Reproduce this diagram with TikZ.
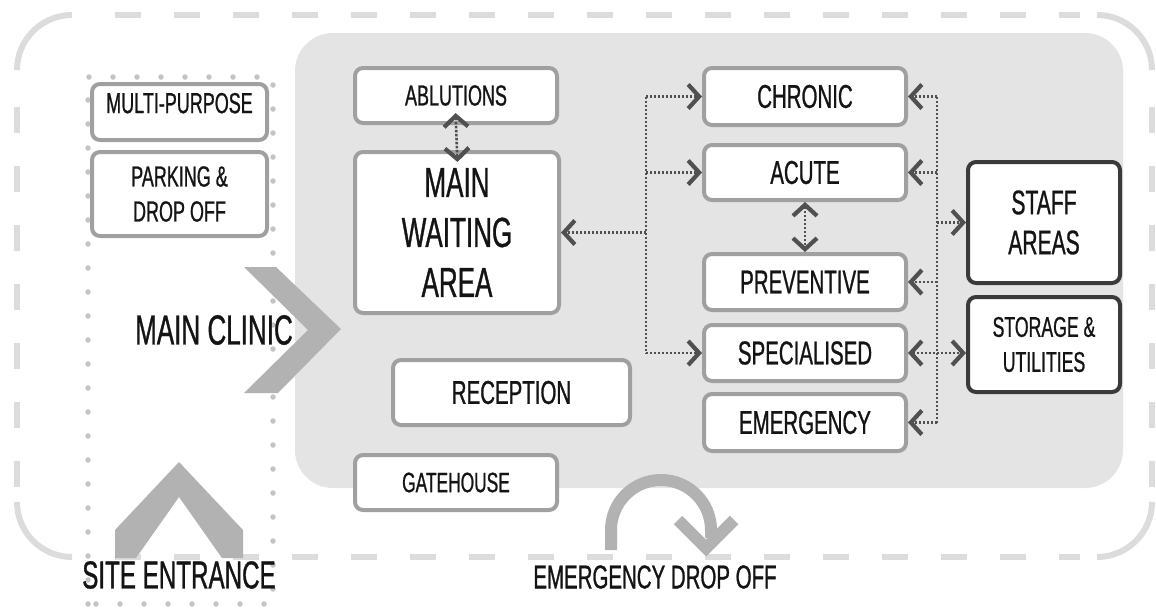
\documentclass[tikz,border=0pt]{standalone}
\usepackage{fontspec}
\setmainfont{Liberation Sans}[FakeStretch=0.62, FakeBold=0.8]
\usepackage{xcolor}
\usepackage{tikz}
\usetikzlibrary{arrows.meta}
\definecolor{dashgry}{RGB}{220,220,220}
\definecolor{dotgry}{RGB}{196,196,196}
\definecolor{clngry}{RGB}{228,228,228}
\definecolor{chvgry}{RGB}{178,178,178}
\definecolor{boxgry}{RGB}{160,160,160}
\definecolor{boxdrk}{RGB}{58,58,58}
\definecolor{arrgry}{RGB}{80,80,80}
\definecolor{txtblk}{RGB}{20,20,20}

\begin{document}
\begin{tikzpicture}[x=1pt, y=-1pt, line join=round, text=txtblk,
    box/.style={draw=boxgry, fill=white, line width=4pt, rounded corners=8pt, inner sep=0pt, align=center},
    darkbox/.style={box, draw=boxdrk},
    smalltxt/.style={font=\fontsize{29}{35}\selectfont},
    midtxt/.style={font=\fontsize{33}{40}\selectfont},
    bigtxt/.style={font=\fontsize{42}{50}\selectfont},
    link/.style={draw=arrgry, line width=2.6pt, dash pattern=on 2.4pt off 1.6pt,
        >={Straight Barb[length=11pt,width=24pt,line width=4.2pt]}},
    sitedash/.style={draw=dashgry, line width=6pt, dash pattern=on 26pt off 33pt},
    sitecorner/.style={draw=dashgry, line width=6pt, rounded corners=55pt}]

\fill[white] (0,0) rectangle (1156,608);
\useasboundingbox (0,0) rectangle (1156,608);

%% site boundary -- dashed edges, solid corners
\draw[sitedash] (115,15) -- (1080,15);
\draw[sitedash] (115,557) -- (1080,557);
\draw[sitedash] (17,107) -- (17,500);
\draw[sitedash] (1152,107) -- (1152,500);
\draw[sitecorner] (17,70) |- (72,15);
\draw[sitecorner] (1097,15) -| (1152,70);
\draw[sitecorner] (1152,502) |- (1097,557);
\draw[sitecorner] (72,557) -| (17,502);

%% dotted strip on the left
\draw[dotgry, line width=5.5pt, line cap=round, dash pattern=on 0pt off 24pt]
    (88,604) -- (88,77) -- (273,77) -- (273,604) -- cycle;

%% main clinic area
\fill[clngry, rounded corners=38pt] (295,33) rectangle (1123,488);

%% big grey chevrons and the drop off turn
\fill[chvgry] (244,267) -- (276,267) -- (341,329) -- (278,393) -- (244,393) -- (308,330) -- cycle;
\fill[chvgry] (115,558) -- (115,530) -- (179,462) -- (243,530) -- (243,558) -- (222,558) -- (179,497) -- (136,558) -- cycle;
\draw[chvgry, line width=12pt] (611,550) -- (611,530) arc[start angle=180, end angle=360, radius=50] -- (711,538);
\draw[chvgry, line width=12pt, line join=miter] (678,520) -- (706,548) -- (734,520);

%% left column
\node[box, smalltxt, minimum width=175, minimum height=56] (multi) at (179.5,112) {\raisebox{18pt}{MULTI-PURPOSE}};
\node[box, smalltxt, minimum width=175, minimum height=84] (parking) at (179.5,194) {PARKING \&\\DROP OFF};

%% waiting side
\node[box, smalltxt, minimum width=202, minimum height=55] (ablutions) at (456,95.5) {ABLUTIONS};
\node[box, bigtxt, minimum width=204, minimum height=161] (mainwait) at (457,232.5) {MAIN\\WAITING\\AREA};
\node[box, midtxt, minimum width=237, minimum height=65] (reception) at (511.5,392.5) {RECEPTION};
\node[box, font=\fontsize{28}{34}\selectfont, minimum width=202, minimum height=55] (gatehouse) at (456,482.5) {GATEHOUSE};

%% clinics
\node[box, midtxt, minimum width=202, minimum height=57] (chronic) at (805,96.5) {CHRONIC};
\node[box, midtxt, minimum width=202, minimum height=55] (acute) at (805,172.5) {ACUTE};
\node[box, midtxt, minimum width=202, minimum height=56] (preventive) at (805,282) {PREVENTIVE};
\node[box, midtxt, minimum width=202, minimum height=56] (specialised) at (805,353) {SPECIALISED};
\node[box, midtxt, minimum width=202, minimum height=57] (emergency) at (805,422.5) {EMERGENCY};

%% back of house
\node[darkbox, font=\fontsize{34}{40}\selectfont, minimum width=152, minimum height=121] (staff) at (1044,222.5) {STAFF\\AREAS};
\node[darkbox, font=\fontsize{28.5}{35}\selectfont, minimum width=152, minimum height=95] (storage) at (1044,344.5) {STORAGE \&\\UTILITIES};

%% dotted links
\coordinate (lbus) at (646,0);
\coordinate (rbus) at (937,0);
\draw[link] (lbus |- chronic.west) -- (lbus |- specialised.west);
\draw[link,->] (lbus |- chronic.west) -- (chronic.west);
\draw[link,->] (lbus |- acute.west) -- (acute.west);
\draw[link,->] (lbus |- specialised.west) -- (specialised.west);
\draw[link,->] (lbus |- mainwait.east) -- (mainwait.east);
\draw[link] (rbus |- chronic.east) -- (rbus |- emergency.east);
\draw[link,->] (rbus |- chronic.east) -- (chronic.east);
\draw[link,->] (rbus |- acute.east) -- (acute.east);
\draw[link,->] (rbus |- preventive.east) -- (preventive.east);
\draw[link,->] (rbus |- emergency.east) -- (emergency.east);
\draw[link,->] (rbus |- staff.west) -- (staff.west);
\draw[link,<->] (specialised.east) -- (storage.west |- specialised.east);
\draw[link,<->] (acute.south) -- (preventive.north);
\draw[link,<->, shorten <=-12pt, shorten >=-12pt] (ablutions.south) -- (mainwait.north);

%% site labels
\node[bigtxt] (clinic) at (214,330) {MAIN CLINIC};
\node[font=\fontsize{39}{47}\selectfont] (entrance) at (179,575) {SITE ENTRANCE};
\node[midtxt] (dropoff) at (655,577) {EMERGENCY DROP OFF};

\end{tikzpicture}
\end{document}
